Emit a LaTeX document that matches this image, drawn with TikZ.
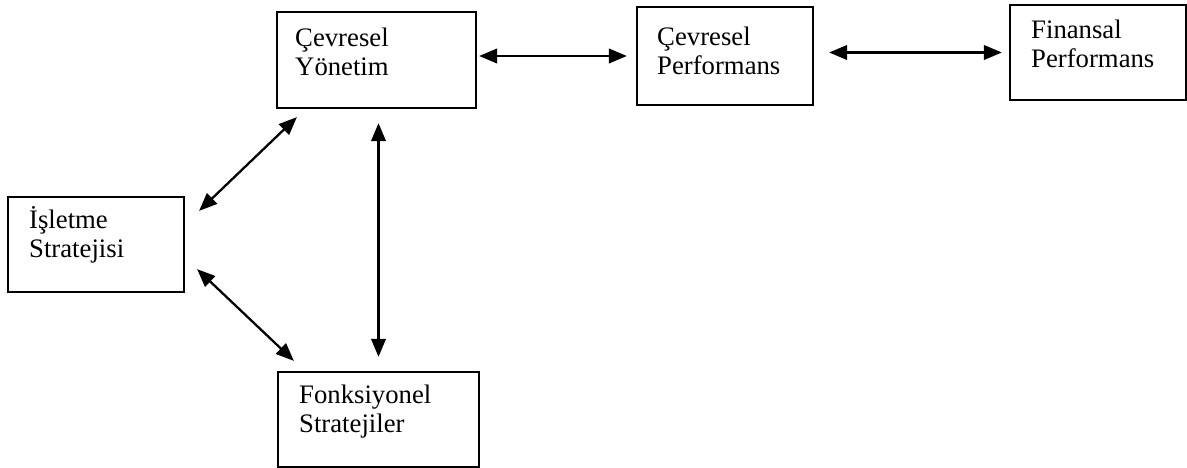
\documentclass[tikz,border=0pt]{standalone}
\usepackage{fontspec}
\setmainfont{Liberation Serif}
\usetikzlibrary{arrows.meta}
\begin{document}
\begin{tikzpicture}[
    box/.style={draw=black, line width=1.3pt, inner sep=0pt},
    txt/.style={anchor=base west, inner sep=0pt, text width=3.4cm, align=left,
      font=\fontsize{15.2}{16.5}\selectfont},
    biarrow/.style={line width=1.3pt, {Triangle[length=3.6mm,width=2.9mm]}-{Triangle[length=3.6mm,width=2.9mm]}}
  ]
    \useasboundingbox (0,0) rectangle (23.74,-9.36);

    \node[box, minimum width=3.98cm, minimum height=1.92cm] (cy) at (7.53,-1.20) {};
    \node[box, minimum width=3.52cm, minimum height=1.96cm] (cp) at (14.50,-1.12) {};
    \node[box, minimum width=3.52cm, minimum height=1.90cm] (fp) at (21.96,-1.05) {};
    \node[box, minimum width=3.52cm, minimum height=1.90cm] (is) at (1.92,-4.89) {};
    \node[box, minimum width=4.02cm, minimum height=1.90cm] (fs) at (7.57,-8.39) {};

    \node[txt] (cyt) at ([shift={(0.38,-0.72)}]cy.north west) {Çevresel\\Yönetim};
    \node[txt] (cpt) at ([shift={(0.42,-0.80)}]cp.north west) {Çevresel\\Performans};
    \node[txt] (fpt) at ([shift={(0.44,-0.70)}]fp.north west) {Finansal\\Performans};
    \node[txt] (ist) at ([shift={(0.44,-0.66)}]is.north west) {İşletme\\Stratejisi};
    \node[txt] (fst) at ([shift={(0.44,-0.66)}]fs.north west) {Fonksiyonel\\Stratejiler};

    \draw[biarrow, shorten <=0.04cm, shorten >=0.18cm] (cy.east |- cp.west) -- (cp.west);
    \draw[biarrow, shorten <=0.30cm, shorten >=0.14cm] (cp.east |- fp.west) -- (fp.west);
    \draw[biarrow, shorten <=0.28cm, shorten >=0.28cm] (cy.south -| fs.north) -- (fs.north);
    \draw[biarrow] ([shift={(0.28,-0.30)}]is.north east) -- ([shift={(0.42,-0.16)}]cy.south west);
    \draw[biarrow] ([shift={(0.24,0.48)}]is.south east) -- ([shift={(0.34,0.20)}]fs.north west);
  \end{tikzpicture}
\end{document}
